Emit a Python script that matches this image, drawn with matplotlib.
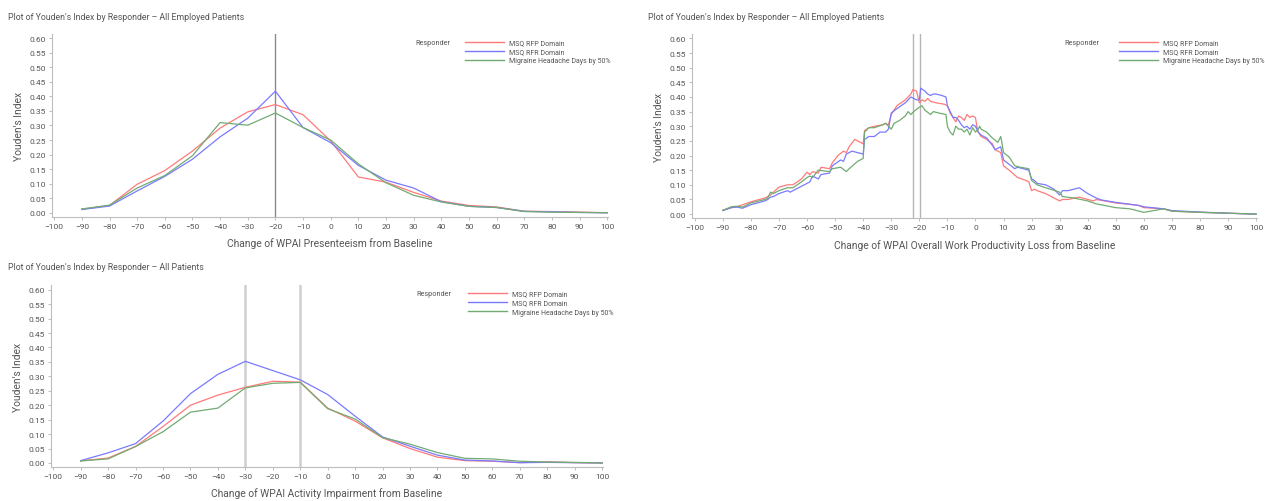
import numpy as np
import matplotlib
matplotlib.use("Agg")
import matplotlib.pyplot as plt
from matplotlib.lines import Line2D
from matplotlib.ticker import FormatStrFormatter, MultipleLocator

# --- dados ---------------------------------------------------------------
RESPONDERS = ["MSQ RFP Domain", "MSQ RFR Domain", "Migraine Headache Days by 50%"]
CORES = ["#ff7a7a", "#7a7aff", "#72ab72"]

# painel 1: presenteísmo (passo de 10)
X_PRES = list(range(-90, 101, 10))
PRES_RFP = [0.012, 0.025, 0.098, 0.145, 0.212, 0.291, 0.347, 0.372, 0.337, 0.247,
            0.123, 0.105, 0.070, 0.040, 0.025, 0.020, 0.005, 0.004, 0.002, 0.000]
PRES_RFR = [0.011, 0.023, 0.075, 0.125, 0.184, 0.261, 0.325, 0.418, 0.293, 0.241,
            0.163, 0.112, 0.085, 0.038, 0.022, 0.018, 0.005, 0.003, 0.001, 0.000]
PRES_MHD = [0.013, 0.026, 0.085, 0.128, 0.196, 0.310, 0.301, 0.343, 0.293, 0.250,
            0.168, 0.103, 0.060, 0.037, 0.022, 0.018, 0.004, 0.002, 0.001, 0.000]
CORTE_PRES = [-20]

# painel 2: perda total de produtividade (curvas finas)
X_RFP = [-90, -87, -85, -80, -75, -74, -73, -72, -70, -67, -65, -62, -60, -59, -58, -56,
         -55, -52, -51, -49, -47, -46, -45, -43, -41, -40, -39.5, -38, -36, -33, -32,
         -31, -30, -28, -25, -23, -22.3, -21, -20, -19, -18, -17, -16, -14, -11, -10,
         -9, -7, -6, -5, -4, -3, -2, -1, 0, 0.5, 1, 2, 4, 6, 7, 8, 9, 10, 12, 15, 18,
         19, 20, 21, 22, 25, 30, 31, 33, 37, 40, 42, 43, 50, 58, 60, 67, 70, 80, 90, 100]
Y_RFP = [0.013, 0.022, 0.025, 0.042, 0.055, 0.060, 0.065, 0.075, 0.092, 0.100, 0.100,
         0.120, 0.143, 0.135, 0.145, 0.140, 0.160, 0.155, 0.175, 0.200, 0.215, 0.210,
         0.230, 0.255, 0.245, 0.240, 0.285, 0.295, 0.300, 0.305, 0.310, 0.305, 0.340,
         0.370, 0.390, 0.410, 0.425, 0.420, 0.380, 0.390, 0.385, 0.395, 0.385, 0.380,
         0.375, 0.370, 0.345, 0.315, 0.335, 0.330, 0.320, 0.340, 0.330, 0.335, 0.330,
         0.300, 0.280, 0.265, 0.255, 0.240, 0.220, 0.215, 0.210, 0.165, 0.150, 0.125,
         0.115, 0.110, 0.080, 0.085, 0.080, 0.070, 0.045, 0.050, 0.050, 0.058, 0.050,
         0.045, 0.050, 0.038, 0.030, 0.022, 0.018, 0.010, 0.006, 0.003, 0.000]
X_RFR = [-90, -87, -85, -83, -80, -75, -74, -73, -72, -70, -67, -66, -63, -60, -59, -58,
         -57, -56, -55, -52, -51, -48, -47, -46, -45, -44, -42, -40, -39.5, -38, -36,
         -34, -32, -31, -30, -28, -25, -23, -22, -21, -20, -19.5, -18, -17, -16, -15,
         -14, -12, -10.5, -10, -9, -8, -7, -6, -5, -4, -3, -2, -1, 0, 1, 2, 4, 6, 7, 8,
         9, 10, 12, 14, 15, 19, 20, 21, 22, 25, 28, 30, 31, 33, 37, 40, 43, 45, 50, 58,
         60, 67, 70, 80, 90, 100]
Y_RFR = [0.012, 0.022, 0.024, 0.020, 0.032, 0.045, 0.050, 0.058, 0.060, 0.070, 0.080,
         0.075, 0.090, 0.105, 0.110, 0.130, 0.125, 0.120, 0.135, 0.140, 0.165, 0.185,
         0.180, 0.205, 0.210, 0.215, 0.210, 0.205, 0.255, 0.265, 0.265, 0.280, 0.280,
         0.290, 0.345, 0.360, 0.380, 0.400, 0.395, 0.390, 0.390, 0.430, 0.420, 0.410,
         0.405, 0.410, 0.410, 0.405, 0.400, 0.370, 0.350, 0.330, 0.330, 0.320, 0.305,
         0.295, 0.300, 0.290, 0.305, 0.300, 0.280, 0.270, 0.260, 0.235, 0.220, 0.225,
         0.230, 0.185, 0.170, 0.155, 0.160, 0.150, 0.120, 0.115, 0.105, 0.100, 0.085,
         0.065, 0.080, 0.080, 0.090, 0.070, 0.055, 0.048, 0.040, 0.030, 0.025, 0.018,
         0.012, 0.007, 0.003, 0.000]
X_MHD = [-90, -87, -85, -83, -80, -75, -74, -73, -72, -70, -67, -65, -62, -60, -59, -58,
         -56, -52, -51, -48, -46, -45, -42, -40, -39.5, -38, -36, -33, -32, -31, -30,
         -29, -27, -25, -24, -23, -22, -20, -19, -18, -16, -15, -13, -10.5, -10, -9, -8,
         -7, -6, -5, -4, -3, -2, -1, 0, 1, 1.5, 2, 4, 6, 8, 9, 9.5, 10, 12, 14, 16, 19,
         20, 22, 25, 30, 31, 35, 40, 43, 50, 55, 60, 67, 70, 80, 90, 100]
Y_MHD = [0.013, 0.025, 0.027, 0.024, 0.038, 0.050, 0.055, 0.075, 0.070, 0.080, 0.090,
         0.090, 0.110, 0.125, 0.130, 0.125, 0.150, 0.145, 0.155, 0.160, 0.145, 0.155,
         0.180, 0.190, 0.280, 0.295, 0.295, 0.305, 0.310, 0.300, 0.290, 0.310, 0.320,
         0.335, 0.350, 0.340, 0.350, 0.365, 0.370, 0.355, 0.340, 0.350, 0.345, 0.340,
         0.300, 0.280, 0.270, 0.300, 0.290, 0.290, 0.280, 0.290, 0.270, 0.295, 0.280,
         0.290, 0.300, 0.290, 0.280, 0.260, 0.245, 0.265, 0.240, 0.210, 0.195, 0.165,
         0.160, 0.155, 0.115, 0.100, 0.090, 0.075, 0.060, 0.055, 0.045, 0.035, 0.022,
         0.018, 0.006, 0.018, 0.010, 0.006, 0.003, 0.000]
CORTE_PROD = [-22.3, -19.6]

# painel 3: comprometimento de atividades (todos os pacientes)
X_ATIV = list(range(-90, 101, 10))
ATIV_RFP = [0.007, 0.017, 0.057, 0.126, 0.200, 0.235, 0.262, 0.283, 0.280, 0.190,
            0.145, 0.087, 0.050, 0.020, 0.008, 0.006, 0.001, 0.004, 0.001, 0.000]
ATIV_RFR = [0.008, 0.035, 0.067, 0.145, 0.240, 0.307, 0.352, 0.320, 0.288, 0.237,
            0.162, 0.090, 0.058, 0.027, 0.010, 0.007, 0.001, 0.002, 0.001, 0.000]
ATIV_MHD = [0.007, 0.014, 0.057, 0.108, 0.176, 0.190, 0.260, 0.276, 0.279, 0.188,
            0.152, 0.088, 0.065, 0.036, 0.016, 0.014, 0.006, 0.003, 0.002, 0.000]
CORTE_ATIV = [-30, -10]

TITULO_EMP = "Plot of Youden's Index by Responder \u2013 All Employed Patients"
TITULO_TODOS = "Plot of Youden's Index by Responder \u2013 All Patients"

# --- estilo --------------------------------------------------------------
plt.rcParams["font.family"] = ["Roboto", "DejaVu Sans"]
TXT = "#555555"
EIXO = "#bdbdbd"
W, H = 1265, 502


def _eixo(fig, esq, dir_, topo, base):
    """Cria eixo a partir de coordenadas em pixels."""
    return fig.add_axes([esq / W, 1 - base / H, (dir_ - esq) / W, (base - topo) / H])


def _formatar(ax, xlabel):
    ax.set_xlim(-100.8, 100.3)
    ax.set_ylim(-0.014, 0.615)
    ax.xaxis.set_major_locator(MultipleLocator(10))
    ax.yaxis.set_major_locator(MultipleLocator(0.05))
    ax.yaxis.set_major_formatter(FormatStrFormatter("%.2f"))
    for s in ("top", "right"):
        ax.spines[s].set_visible(False)
    for s in ("left", "bottom"):
        ax.spines[s].set_color(EIXO)
        ax.spines[s].set_linewidth(0.8)
    ax.tick_params(colors=EIXO, labelcolor=TXT, labelsize=6, length=2.5, width=0.7, pad=2)
    ax.set_xlabel(xlabel, fontsize=7.4, color=TXT, labelpad=6)
    ax.set_ylabel("Youden's Index", fontsize=7.4, color=TXT, labelpad=4)


def _legenda(ax, x_resp, x_leg):
    handles = [Line2D([], [], color=c, lw=1) for c in CORES]
    ax.legend(handles, RESPONDERS, loc="upper left", bbox_to_anchor=(x_leg, 0.972),
              frameon=False, fontsize=5.0, handlelength=5.6, handletextpad=0.7,
              labelspacing=0.3, borderpad=0, borderaxespad=0,
              labelcolor=TXT)
    ax.text(x_resp, 0.955, "Responder", transform=ax.transAxes, fontsize=5.2,
            color=TXT, va="center", ha="left")


def _series(ax, pares):
    for (x, y), cor in zip(pares, CORES):
        ax.plot(x, y, color=cor, lw=0.9)


fig = plt.figure(figsize=(W / 100, H / 100), dpi=100)
fig.patch.set_facecolor("white")

# painel 1
ax1 = _eixo(fig, 52, 608, 34.9, 217.8)
for c in CORTE_PRES:
    ax1.axvline(c, color="#8a8a8a", lw=1.0, zorder=1)
_series(ax1, [(X_PRES, PRES_RFP), (X_PRES, PRES_RFR), (X_PRES, PRES_MHD)])
_formatar(ax1, "Change of WPAI Presenteeism from Baseline")
_legenda(ax1, 0.653, 0.743)

# painel 2
ax2 = _eixo(fig, 692.5, 1257, 35.0, 219.2)
for c in CORTE_PROD:
    ax2.axvline(c, color="#b5b5b5", lw=1.0, zorder=1)
_series(ax2, [(X_RFP, Y_RFP), (X_RFR, Y_RFR), (X_MHD, Y_MHD)])
_formatar(ax2, "Change of WPAI Overall Work Productivity Loss from Baseline")
_legenda(ax2, 0.659, 0.756)

# painel 3
ax3 = _eixo(fig, 51, 603, 286.4, 468)
for c in CORTE_ATIV:
    ax3.axvline(c, color="#cfcfcf", lw=1.8, zorder=1)
_series(ax3, [(X_ATIV, ATIV_RFP), (X_ATIV, ATIV_RFR), (X_ATIV, ATIV_MHD)])
_formatar(ax3, "Change of WPAI Activity Impairment from Baseline")
_legenda(ax3, 0.662, 0.755)

fig.text(8 / W, 1 - 17 / H, TITULO_EMP, fontsize=6.3, color=TXT, va="center")
fig.text(648 / W, 1 - 17 / H, TITULO_EMP, fontsize=6.3, color=TXT, va="center")
fig.text(8 / W, 1 - 268 / H, TITULO_TODOS, fontsize=6.3, color=TXT, va="center")

fig.savefig("out.png", dpi=100, facecolor="white")
